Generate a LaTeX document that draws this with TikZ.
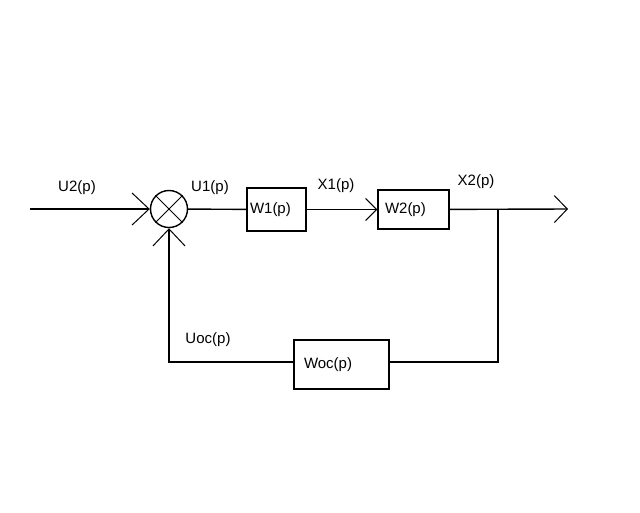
\documentclass[tikz,border=0pt]{standalone}
\usepackage{fontspec}
\setmainfont{Liberation Sans}
\usetikzlibrary{arrows.meta}

\begin{document}
\begin{tikzpicture}[x=1pt,y=-1pt,line width=1.4pt,
	every node/.style={font=\fontsize{15}{18}\selectfont},
	block/.style={draw,rectangle,align=left,inner ysep=0pt},
	sum/.style={draw,circle,minimum size=37pt,inner sep=0pt},
	bigtip/.style={-{Straight Barb[length=17pt,width=32pt,line width=1pt]}},
	midtip/.style={-{Straight Barb[length=11pt,width=22pt,line width=1pt]}},
	outtip/.style={-{Straight Barb[length=13pt,width=27pt,line width=1pt]}}]
			\useasboundingbox (0,0) rectangle (640,512);

			\coordinate (in) at (30,209);
			\node[sum] (s) at (169,209) {};
			\draw[line width=1pt] (s.45) -- (s.225) (s.135) -- (s.315);
			\node[block,minimum width=59pt,minimum height=43pt,text width=53pt,inner xsep=3pt] (w1) at (276.5,209.5) {W1(p)};
			\node[block,minimum width=71pt,minimum height=39pt,text width=57pt,inner xsep=7pt] (w2) at (413.5,209.5) {W2(p)};
			\node[block,minimum width=95pt,minimum height=49pt,text width=75pt,inner xsep=10pt] (woc) at (341.5,364.5) {Woc(p)};
			\coordinate (br) at (498,209);
			\coordinate (out) at (568,209);
			\coordinate (fbr) at (498,362);
			\coordinate (fbl) at (169,362);

			\draw[bigtip] (in) to (s);
			\draw (s) to (w1);
			\draw[midtip] (w1) to (w2);
			\draw[outtip] (w2) to (out);
			\draw (br) to (fbr) to (woc.east |- fbr);
			\draw[bigtip] (woc.west |- fbl) to (fbl) to (s);

			\node (u2) at (77,188) {U2(p)};
			\node (u1) at (210,188) {U1(p)};
			\node (x1) at (336,186) {X1(p)};
			\node (x2) at (476,182) {X2(p)};
			\node (uoc) at (208,340) {Uoc(p)};
		\end{tikzpicture}
\end{document}
